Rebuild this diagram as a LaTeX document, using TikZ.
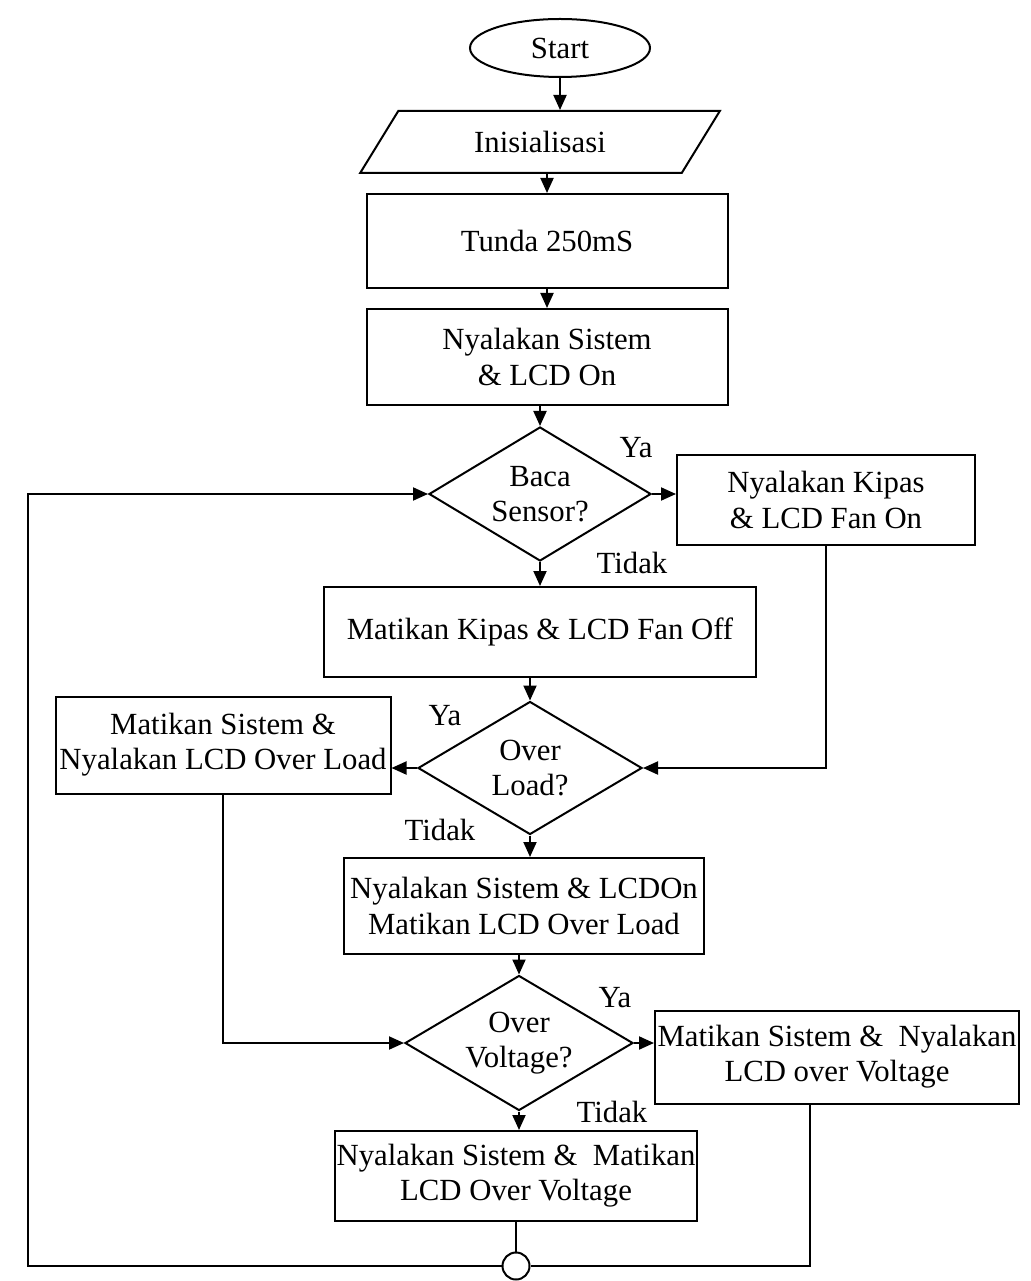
\documentclass[tikz,border=0pt]{standalone}
\usepackage{fontspec}
\setmainfont{Liberation Serif}
\usetikzlibrary{shapes.geometric,arrows.meta}

\newlength{\du}
\setlength{\du}{0.2cm}

\begin{document}
\begin{tikzpicture}[
  font=\fontsize{17.5}{20}\selectfont,
  line width=0.2\du,
  box/.style={draw, rectangle, align=center, inner sep=0pt},
  cond/.style={draw, diamond, aspect=1.65, align=center, inner sep=0pt},
  flow/.style={-{Triangle[length=3mm,width=2.6mm]}},
]
\pgftransformxscale{1.000000}
\pgftransformyscale{-1.000000}
\useasboundingbox (0\du,0\du) rectangle (103.1\du,128.1\du);
% main column
\node[draw, ellipse, inner sep=0pt, minimum width=18\du, minimum height=5.8\du] (start) at (56.0\du,4.8\du){Start};
\node[draw, trapezium, trapezium left angle=60, trapezium right angle=120, trapezium stretches=true,
  minimum width=36\du, minimum height=6.2\du] (init) at (54.0\du,14.2\du){Inisialisasi};
\node[box, minimum width=36.1\du, minimum height=9.4\du] (tunda) at (54.7\du,24.1\du){Tunda 250mS};
\node[box, minimum width=36.1\du, minimum height=9.6\du] (sysOn) at (54.7\du,35.7\du){Nyalakan Sistem\\ \& LCD On};
\node[cond, minimum width=22.2\du, minimum height=13.4\du] (baca) at (54.0\du,49.4\du){Baca\\Sensor?};
\node[box, minimum width=29.8\du, minimum height=9.0\du] (fanOn) at (82.6\du,50.0\du){Nyalakan Kipas\\ \& LCD Fan On};
\node[box, minimum width=43.2\du, minimum height=9.0\du] (fanOff) at (54.0\du,63.2\du){Matikan Kipas \& LCD Fan Off};
\node[cond, minimum width=22.4\du, minimum height=13.3\du] (load) at (53.0\du,76.8\du){Over\\Load?};
\node[box, minimum width=33.5\du, minimum height=9.7\du] (loadOn) at (22.3\du,74.5\du){Matikan Sistem \&\\Nyalakan LCD Over Load};
\node[box, minimum width=36.0\du, minimum height=9.6\du] (loadOff) at (52.4\du,90.6\du){Nyalakan Sistem \& LCDOn\\Matikan LCD Over Load};
\node[cond, minimum width=22.8\du, minimum height=13.5\du] (volt) at (51.9\du,104.3\du){Over\\Voltage?};
\node[box, minimum width=36.4\du, minimum height=9.3\du] (voltOn) at (83.7\du,105.7\du){Matikan Sistem \&~ Nyalakan\\LCD over Voltage};
\node[box, minimum width=36.2\du, minimum height=9.0\du] (voltOff) at (51.6\du,117.6\du){Nyalakan Sistem \&~ Matikan\\LCD Over Voltage};
\node[draw, circle, inner sep=0pt, minimum size=2.7\du] (join) at (51.6\du,126.6\du){};
% labels
\node (ya1) at (63.6\du,44.8\du){Ya};
\node (tidak1) at (63.2\du,56.3\du){Tidak};
\node (ya2) at (44.5\du,71.6\du){Ya};
\node (tidak2) at (44.0\du,83.0\du){Tidak};
\node (ya3) at (61.5\du,99.8\du){Ya};
\node (tidak3) at (61.2\du,111.2\du){Tidak};
\coordinate (leftRail) at (2.8\du,0\du);
\coordinate (rightRail) at (81.0\du,0\du);
% connectors
\draw[flow] (start.south) -- (start.south |- init.north);
\draw[flow] (tunda.north |- init.south) -- (tunda.north);
\draw[flow] (tunda.south) -- (sysOn.north);
\draw[flow] (baca.north |- sysOn.south) -- (baca.north);
\draw[flow] (baca.east) -- (baca.east -| fanOn.west);
\draw[flow] (baca.south) -- (fanOff.north);
\draw[flow] (load.north |- fanOff.south) -- (load.north);
\draw[flow] (fanOn.south) |- (load.east);
\draw[flow] (load.west) -- (load.west -| loadOn.east);
\draw[flow] (load.south) -- (load.south |- loadOff.north);
\draw[flow] (volt.north |- loadOff.south) -- (volt.north);
\draw[flow] (loadOn.south) |- (volt.west);
\draw[flow] (volt.east) -- (volt.east -| voltOn.west);
\draw[flow] (volt.south) -- (volt.south |- voltOff.north);
\draw (voltOff.south) -- (join.north);
\draw (rightRail |- voltOn.south) |- (join.east);
\draw[flow] (join.west) -| (leftRail |- baca.west) -- (baca.west);
\end{tikzpicture}
\end{document}
